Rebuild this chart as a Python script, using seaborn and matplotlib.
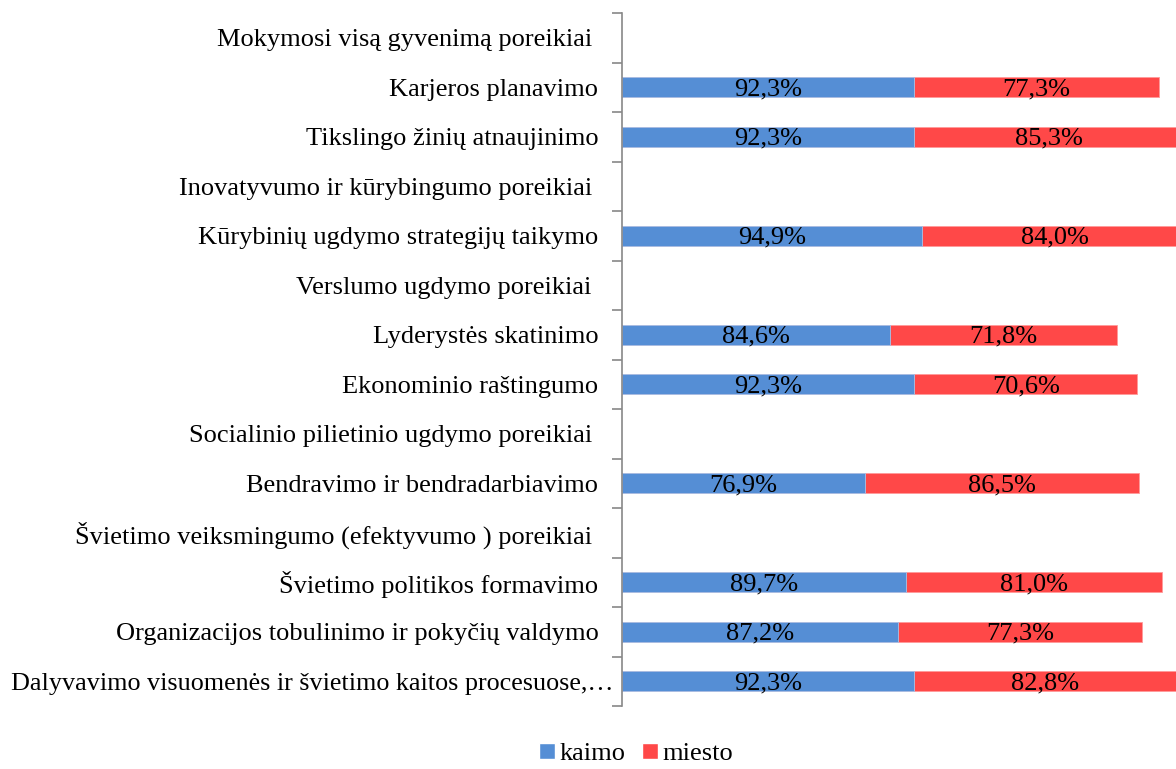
import numpy as np
import pandas as pd
import matplotlib
matplotlib.use("Agg")
import matplotlib.pyplot as plt
import matplotlib.transforms as mtransforms
import seaborn as sns
from matplotlib.patches import Patch

categories = [
    "Mokymosi visą gyvenimą poreikiai ",
    "Karjeros planavimo",
    "Tikslingo žinių atnaujinimo",
    "Inovatyvumo ir kūrybingumo poreikiai ",
    "Kūrybinių ugdymo strategijų taikymo",
    "Verslumo ugdymo poreikiai ",
    "Lyderystės skatinimo",
    "Ekonominio raštingumo",
    "Socialinio pilietinio ugdymo poreikiai ",
    "Bendravimo ir bendradarbiavimo",
    "Švietimo veiksmingumo (efektyvumo ) poreikiai ",
    "Švietimo politikos formavimo",
    "Organizacijos tobulinimo ir pokyčių valdymo",
    "Dalyvavimo visuomenės ir švietimo kaitos procesuose,…",
]
kaimo = [np.nan, 92.3, 92.3, np.nan, 94.9, np.nan, 84.6, 92.3, np.nan, 76.9, np.nan, 89.7, 87.2, 92.3]
miesto = [np.nan, 77.3, 85.3, np.nan, 84.0, np.nan, 71.8, 70.6, np.nan, 86.5, np.nan, 81.0, 77.3, 82.8]

blue = "#558ED5"
red = "#FF4848"

df = pd.DataFrame({"kategorija": categories, "kaimo": kaimo, "miesto": miesto})
df["total"] = df["kaimo"] + df["miesto"]

sns.set_style("white")
plt.rcParams["font.family"] = ["Liberation Serif", "DejaVu Serif"]
fs = 19

fig = plt.figure(figsize=(11.76, 7.69), dpi=100)
ax = fig.add_axes([622 / 1176, 1 - 706 / 769, 1 - 622 / 1176, (706 - 13) / 769])

sns.barplot(data=df, y="kategorija", x="total", color=red, orient="h",
            width=0.4, ax=ax, saturation=1, edgecolor="#ff9a9a", linewidth=0.6)
sns.barplot(data=df, y="kategorija", x="kaimo", color=blue, orient="h",
            width=0.4, ax=ax, saturation=1, edgecolor="#a9c4ea", linewidth=0.6)

for i, row in df.iterrows():
    if np.isnan(row["kaimo"]):
        continue
    ax.text(row["kaimo"] / 2, i + 0.04, f"{row['kaimo']:.1f}%".replace(".", ","),
            ha="center", va="center", fontsize=fs, color="black")
    ax.text(row["kaimo"] + row["miesto"] / 2, i + 0.04, f"{row['miesto']:.1f}%".replace(".", ","),
            ha="center", va="center", fontsize=fs, color="black")

ax.set_xlim(0, 175.1)
ax.set_ylim(len(categories) - 0.5, -0.5)
ax.set_xlabel("")
ax.set_ylabel("")
ax.set_xticks([])
ax.set_yticks(np.arange(-0.5, len(categories), 1), minor=True)
ax.tick_params(axis="y", which="major", length=0, pad=17, labelsize=fs, labelcolor="black")
ax.tick_params(axis="y", which="minor", length=7, width=1.2, color="#888888", left=True)
for s in ["top", "right", "bottom"]:
    ax.spines[s].set_visible(False)
ax.spines["left"].set_color("#888888")
ax.spines["left"].set_linewidth(1.2)

# the last, truncated label sits a little further right in the original
last = ax.get_yticklabels()[-1]
last.set_fontsize(18.8)
last.set_transform(last.get_transform() + mtransforms.ScaledTranslation(0.15, 0, fig.dpi_scale_trans))

handles = [Patch(facecolor=blue, label="kaimo"), Patch(facecolor=red, label="miesto")]
fig.legend(handles=handles, loc="lower center", bbox_to_anchor=(0.541, -0.026), ncol=2,
           frameon=False, fontsize=fs, handlelength=0.6, handleheight=0.6,
           handletextpad=0.2, columnspacing=0.6, labelcolor="black")

fig.savefig("out.png", dpi=100)
